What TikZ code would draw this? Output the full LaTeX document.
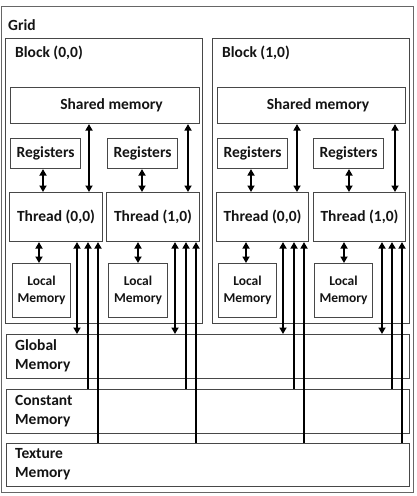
\documentclass[tikz,border=0pt]{standalone}
\usepackage{fontspec}
\setmainfont{Carlito}
\usetikzlibrary{arrows.meta}
\begin{document}
\begin{tikzpicture}[x=1pt,y=-1pt,
  box/.style={draw=black!72, line width=1.1pt, fill=white, inner sep=0pt, anchor=north west, align=center,
    font=\bfseries\fontsize{15.5}{19}\selectfont, text=black!92},
  small/.style={font=\bfseries\fontsize{13.5}{17}\selectfont},
  lbl/.style={inner sep=0pt, anchor=west, align=left, text=black!92,
    font=\bfseries\fontsize{15.5}{19}\selectfont},
  dar/.style={line width=2.3pt, {Triangle[length=6.5pt,width=7pt]}-{Triangle[length=6.5pt,width=7pt]}},
  uar/.style={line width=2.3pt, {Triangle[length=6.5pt,width=7pt]}-},
]
\useasboundingbox (0,0) rectangle (416,496);
% grid and blocks
\node[box, draw=black!60, minimum width=412pt, minimum height=486pt] (grid) at (1,6) {};
\node[lbl] (gridl) at (8,25) {Grid};
\node[box, minimum width=197pt, minimum height=285pt] (blockA) at (5,38) {};
\node[box, minimum width=197pt, minimum height=285pt] (blockB) at (212,38) {};
\node[lbl] (blockAl) at (15,53) {Block (0,0)};
\node[lbl] (blockBl) at (222,53) {Block (1,0)};
% shared memory
\node[box, minimum width=189pt, minimum height=36pt] (sharedA) at (10,87) {\hspace{13pt}Shared memory};
\node[box, minimum width=188pt, minimum height=36pt] (sharedB) at (217,87) {\hspace{13pt}Shared memory};
% registers
\node[box, minimum width=70pt, minimum height=30pt] (regA0) at (10,138) {Registers};
\node[box, minimum width=70pt, minimum height=30pt] (regA1) at (107,138) {Registers};
\node[box, minimum width=70pt, minimum height=30pt] (regB0) at (217,138) {Registers};
\node[box, minimum width=70pt, minimum height=30pt] (regB1) at (313,138) {Registers};
% threads
\node[box, minimum width=93pt, minimum height=49pt] (thA0) at (9,192) {Thread (0,0)};
\node[box, minimum width=93pt, minimum height=49pt] (thA1) at (106,192) {Thread (1,0)};
\node[box, minimum width=92pt, minimum height=49pt] (thB0) at (216,192) {Thread (0,0)};
\node[box, minimum width=92pt, minimum height=49pt] (thB1) at (313,192) {Thread (1,0)};
% local memory
\node[box, small, minimum width=58pt, minimum height=54pt] (locA0) at (12,263) {Local\\Memory};
\node[box, small, minimum width=59pt, minimum height=54pt] (locA1) at (108,263) {Local\\Memory};
\node[box, small, minimum width=58pt, minimum height=54pt] (locB0) at (218,263) {Local\\Memory};
\node[box, small, minimum width=58pt, minimum height=54pt] (locB1) at (314,263) {Local\\Memory};
% device memories
\node[box, minimum width=403pt, minimum height=44pt] (global) at (6,334) {};
\node[box, minimum width=403pt, minimum height=44pt] (const) at (6,389) {};
\node[box, minimum width=403pt, minimum height=43pt] (tex) at (6,443) {};
\node[lbl] (globall) at (15,356) {Global\\Memory};
\node[lbl] (constl) at (15,411) {Constant\\Memory};
\node[lbl] (texl) at (15,464.5) {Texture\\Memory};
% registers <-> thread
\draw[dar] (regA0.south -| 43,0) -- (thA0.north -| 43,0);
\draw[dar] (regA1.south -| 142,0) -- (thA1.north -| 142,0);
\draw[dar] (regB0.south -| 251,0) -- (thB0.north -| 251,0);
\draw[dar] (regB1.south -| 349,0) -- (thB1.north -| 349,0);
% shared <-> thread
\draw[dar] (sharedA.south -| 89,0) -- (thA0.north -| 89,0);
\draw[dar] (sharedA.south -| 188,0) -- (thA1.north -| 188,0);
\draw[dar] (sharedB.south -| 297,0) -- (thB0.north -| 297,0);
\draw[dar] (sharedB.south -| 395,0) -- (thB1.north -| 395,0);
% thread <-> local
\draw[dar] (thA0.south -| 39,0) -- (locA0.north -| 39,0);
\draw[dar] (thA1.south -| 138,0) -- (locA1.north -| 138,0);
\draw[dar] (thB0.south -| 246,0) -- (locB0.north -| 246,0);
\draw[dar] (thB1.south -| 344,0) -- (locB1.north -| 344,0);
% thread <-> global
\draw[dar] (thA0.south -| 77,0) -- (global.north -| 77,0);
\draw[dar] (thA1.south -| 175,0) -- (global.north -| 175,0);
\draw[dar] (thB0.south -| 283,0) -- (global.north -| 283,0);
\draw[dar] (thB1.south -| 382,0) -- (global.north -| 382,0);
% thread <- constant
\draw[uar] (thA0.south -| 88,0) -- (const.north -| 88,0);
\draw[uar] (thA1.south -| 186,0) -- (const.north -| 186,0);
\draw[uar] (thB0.south -| 294,0) -- (const.north -| 294,0);
\draw[uar] (thB1.south -| 392,0) -- (const.north -| 392,0);
% thread <- texture
\draw[uar] (thA0.south -| 98,0) -- (tex.north -| 98,0);
\draw[uar] (thA1.south -| 196,0) -- (tex.north -| 196,0);
\draw[uar] (thB0.south -| 304,0) -- (tex.north -| 304,0);
\draw[uar] (thB1.south -| 402,0) -- (tex.north -| 402,0);
\end{tikzpicture}
\end{document}
